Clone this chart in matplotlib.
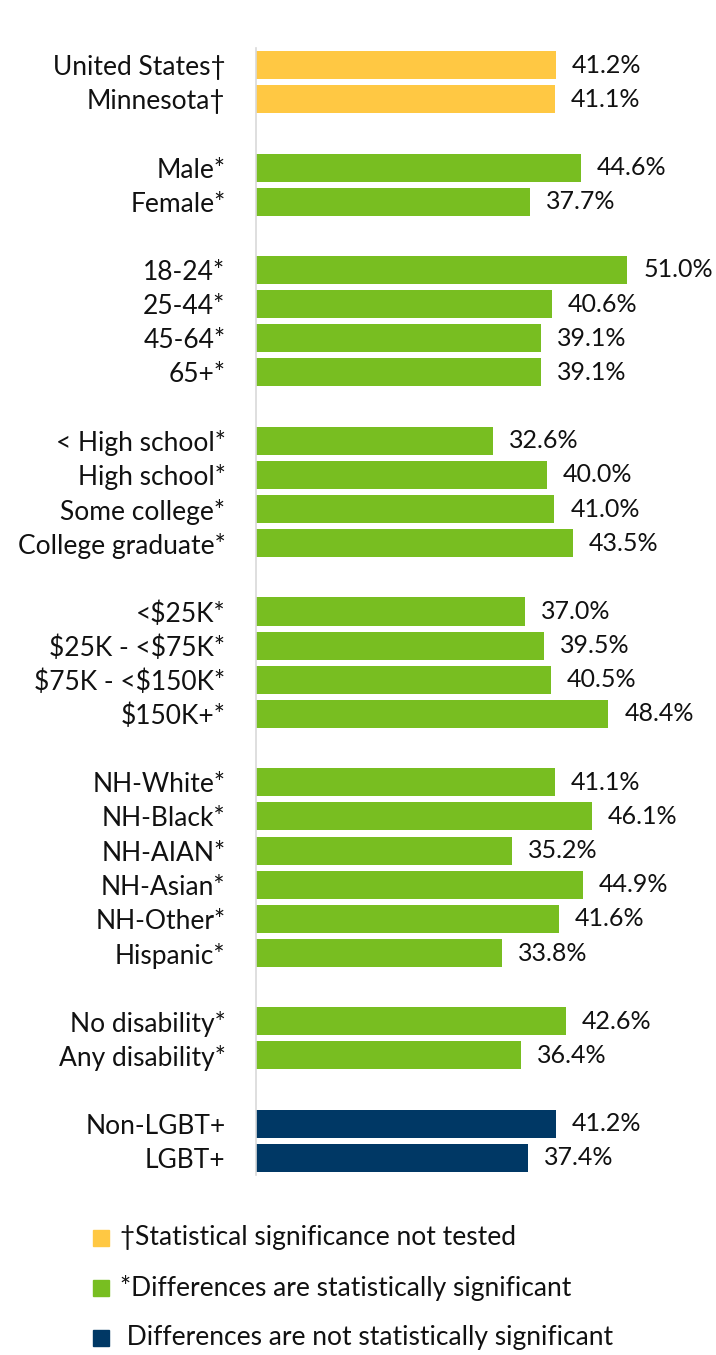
import matplotlib
matplotlib.use("Agg")
import matplotlib.pyplot as plt
from matplotlib.patches import Rectangle

plt.rcParams["font.family"] = ["Lato", "DejaVu Sans"]
plt.rcParams["text.parse_math"] = False

# Groups of bars, separated by a blank row
groups = [
    ["United States\u2020", "Minnesota\u2020"],
    ["Male*", "Female*"],
    ["18-24*", "25-44*", "45-64*", "65+*"],
    ["< High school*", "High school*", "Some college*", "College graduate*"],
    ["<$25K*", "$25K - <$75K*", "$75K - <$150K*", "$150K+*"],
    ["NH-White*", "NH-Black*", "NH-AIAN*", "NH-Asian*", "NH-Other*", "Hispanic*"],
    ["No disability*", "Any disability*"],
    ["Non-LGBT+", "LGBT+"],
]
group_values = [
    [41.2, 41.1],
    [44.6, 37.7],
    [51.0, 40.6, 39.1, 39.1],
    [32.6, 40.0, 41.0, 43.5],
    [37.0, 39.5, 40.5, 48.4],
    [41.1, 46.1, 35.2, 44.9, 41.6, 33.8],
    [42.6, 36.4],
    [41.2, 37.4],
]
group_kind = ["untested", "sig", "sig", "sig", "sig", "sig", "sig", "nonsig"]

colors = {"untested": "#FFC843", "sig": "#78BE21", "nonsig": "#003865"}
legend_labels = [
    ("untested", "\u2020Statistical significance not tested"),
    ("sig", "*Differences are statistically significant"),
    ("nonsig", " Differences are not statistically significant"),
]

W, H = 716, 1355
fig = plt.figure(figsize=(W / 100, H / 100), dpi=100)
fig.patch.set_facecolor("white")

ax = fig.add_axes([256 / W, 1 - 1175 / H, 460 / W, (1175 - 48) / H])

pos = []
labels = []
vals = []
cols = []
row = 0
for names, values, kind in zip(groups, group_values, group_kind):
    for n, v in zip(names, values):
        pos.append(row)
        labels.append(n)
        vals.append(v)
        cols.append(colors[kind])
        row += 1
    row += 1
row -= 1

ax.barh(pos, vals, height=0.82, color=cols)
for p, v in zip(pos, vals):
    ax.annotate(f"{v:.1f}%", (v, p), xytext=(11.5, 0), textcoords="offset points",
                va="center", ha="left", fontsize=18, color="#111111")

ax.set_xlim(0, 460 / 7.28)
ax.set_ylim(row - 0.5, -0.5)
ax.set_yticks(pos)
ax.set_yticklabels(labels, fontsize=19, color="#111111")
ax.tick_params(axis="y", length=0, pad=22)
ax.set_xticks([])

for s in ["top", "right", "bottom"]:
    ax.spines[s].set_visible(False)
ax.spines["left"].set_color("#D9D9D9")
ax.spines["left"].set_linewidth(1.2)

# Legend
leg_y = [1238, 1288, 1338]
for (kind, text), y in zip(legend_labels, leg_y):
    fig.patches.append(Rectangle((93 / W, 1 - (y + 8) / H), 16 / W, 16 / H,
                                 transform=fig.transFigure, color=colors[kind]))
    fig.text(120 / W, 1 - y / H, text, fontsize=19, va="center", ha="left",
             color="#111111")

fig.savefig("out.png", dpi=100, facecolor="white")
